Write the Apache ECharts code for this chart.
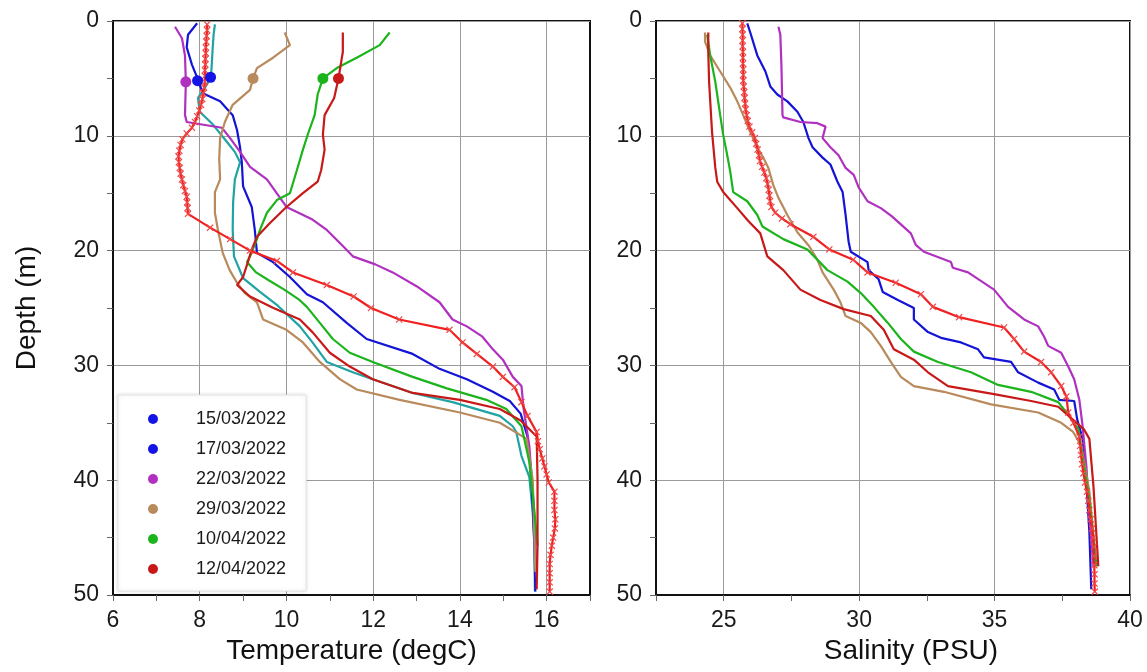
<!DOCTYPE html>
<html>
<head>
<meta charset="utf-8">
<script src="https://cdn.jsdelivr.net/npm/echarts@6/dist/echarts.min.js"></script>
<style>
html, body { margin: 0; background: #fff; }
#chart { width: 1147px; height: 672px; }
</style>
</head>
<body>
<div id="chart"></div>
<script>
// profile data, [value, depth]
var dates = ['15/03/2022', '17/03/2022', '22/03/2022', '29/03/2022', '10/04/2022', '12/04/2022'];

var temp1503 = [[8.35,0.3],[8.32,1.2],[8.3,2.3],[8.28,3.6],[8.26,4.9],[8.12,5.8],[7.96,6.7],[8.0,7.9],[8.3,9.0],[8.62,10.5],[8.81,11.4],[8.93,12.3],[8.81,13.8],[8.77,15.8],[8.76,18.2],[8.79,20.5],[9.0,22.4],[9.39,23.6],[9.8,24.8],[10.31,26.6],[10.6,28.0],[10.93,29.7],[11.53,30.6],[11.99,31.2],[12.91,32.4],[13.83,33.2],[14.92,34.4],[15.22,35.3],[15.3,35.8],[15.42,37.9],[15.6,39.7],[15.68,42.8],[15.72,46],[15.73,49.7]];
var temp1703 = [[7.94,0.2],[7.73,1.2],[7.7,2.3],[7.82,3.8],[7.96,5.1],[8.07,6.3],[8.47,7.0],[8.76,8.2],[8.86,9.5],[8.93,11.0],[8.97,12.3],[9.0,14.4],[9.2,16.2],[9.27,18.2],[9.32,20.2],[9.69,21.0],[10.08,22.3],[10.47,23.8],[10.84,24.5],[11.39,26.3],[11.85,27.7],[12.91,29.0],[13.53,30.3],[14.16,31.2],[14.76,32.3],[15.15,33.1],[15.4,34.2],[15.56,36.2],[15.65,39.9],[15.72,45.7],[15.74,49.7]];
var temp2203 = [[7.43,0.5],[7.59,1.5],[7.66,3.0],[7.68,5.3],[7.66,8.2],[7.7,8.8],[8.51,9.3],[8.7,10.2],[8.93,11.4],[9.16,12.7],[9.55,13.8],[10.0,16.2],[10.6,17.3],[10.93,18.2],[11.3,19.6],[11.53,20.5],[12.05,21.2],[12.45,21.9],[13.0,23.1],[13.53,24.5],[13.83,26.0],[14.16,26.6],[14.52,27.5],[14.76,28.6],[14.99,29.5],[15.22,31.0],[15.42,31.8],[15.47,33.8],[15.6,37],[15.7,42],[15.77,48.5]];
var temp2903 = [[9.96,1.0],[10.08,2.1],[9.69,3.2],[9.32,4.1],[9.23,5.0],[9.16,6.0],[8.76,7.3],[8.58,8.8],[8.47,10.2],[8.45,12.0],[8.47,13.8],[8.35,14.9],[8.35,16.7],[8.42,18.2],[8.53,20.2],[8.69,21.7],[8.86,22.8],[9.04,23.7],[9.32,24.5],[9.46,26.0],[10.0,26.9],[10.38,28.0],[10.77,29.7],[11.23,31.2],[11.62,32.1],[12.61,33.0],[14.0,34.1],[14.92,35.0],[15.54,36.4],[15.68,40],[15.74,48]];
var temp1004 = [[12.38,1.0],[12.15,2.1],[11.62,3.2],[11.16,4.1],[10.84,5.0],[10.72,6.4],[10.65,8.2],[10.5,9.8],[10.38,11.2],[10.24,13.0],[10.08,15.0],[9.78,15.6],[9.55,16.7],[9.39,18.2],[9.32,19.0],[9.16,20.5],[9.09,21.0],[9.3,21.9],[9.6,22.6],[9.95,23.4],[10.3,24.3],[10.47,24.9],[10.77,26.3],[11.07,27.7],[11.46,28.9],[11.99,29.7],[12.91,31.0],[13.7,32.0],[14.61,33.0],[15.07,33.8],[15.42,35.3],[15.6,38.4],[15.72,42.8],[15.79,45.7]];
var temp1204 = [[11.3,1.0],[11.3,2.7],[11.2,5.0],[11.1,6.7],[10.88,8.2],[10.84,9.9],[10.88,11.2],[10.8,13.0],[10.72,14.0],[10.38,15.0],[10.0,16.2],[9.62,17.6],[9.32,18.8],[9.2,19.9],[9.11,21.0],[9.0,22.3],[8.86,23.0],[9.16,24.0],[9.7,25.0],[10.31,26.0],[10.6,27.1],[11.0,28.9],[11.46,30.1],[11.99,31.2],[12.91,32.4],[14.0,33.0],[14.92,33.8],[15.4,34.8],[15.77,36.2],[15.79,39.9],[15.79,45.7],[15.77,49.5]];
var tempCtd = [[8.17,0.3],[8.17,0.8],[8.16,1.3],[8.15,1.8],[8.14,2.3],[8.14,2.8],[8.13,3.3],[8.13,3.8],[8.12,4.3],[8.12,4.8],[8.12,5.3],[8.1,5.8],[8.08,6.3],[8.06,6.8],[8.03,7.3],[7.99,7.8],[7.94,8.3],[7.89,8.8],[7.82,9.3],[7.7,9.8],[7.6,10.3],[7.56,10.8],[7.53,11.3],[7.51,11.8],[7.52,12.3],[7.54,12.8],[7.56,13.3],[7.59,13.8],[7.62,14.3],[7.66,14.8],[7.7,15.3],[7.71,15.8],[7.72,16.3],[7.73,16.8],[8.24,18.0],[8.7,19.0],[9.16,20.0],[9.78,20.9],[10.15,21.9],[10.93,23.0],[11.55,24.0],[11.95,25.0],[12.6,26.0],[13.76,26.9],[14.06,28.0],[14.39,29.0],[14.76,30.1],[14.99,31.0],[15.26,31.9],[15.42,33.2],[15.56,34.4],[15.77,35.8],[15.8,36.6],[15.84,37.3],[15.9,38.1],[15.95,38.8],[16.0,39.5],[16.05,40.2],[16.18,41.0],[16.18,41.8],[16.18,42.6],[16.2,43.4],[16.19,44.2],[16.15,45.0],[16.12,45.7],[16.09,46.5],[16.07,47.3],[16.07,48.1],[16.07,48.9],[16.07,49.7]];

var surfaceTemp = [8.25, 7.95, 7.68, 9.23, 10.84, 11.2];
var surfaceDepth = [4.9, 5.2, 5.3, 5.0, 5.0, 5.0];

var sal1703 = [[25.87,0.2],[25.98,1.0],[26.24,3.0],[26.54,4.4],[26.72,5.7],[26.98,6.4],[27.35,7.0],[27.72,7.9],[27.94,8.8],[28.13,10.2],[28.28,11.0],[28.65,11.9],[28.94,12.5],[29.2,14.0],[29.39,14.9],[29.5,16.9],[29.61,19.2],[29.69,20.1],[30.31,21.0],[30.35,21.7],[30.72,22.5],[30.87,23.6],[31.43,24.3],[32.02,25.0],[32.02,26.0],[32.54,27.1],[33.02,27.6],[33.76,28.0],[34.39,28.6],[34.61,29.3],[35.61,29.7],[35.87,30.6],[36.61,31.5],[37.2,32.1],[37.39,33.0],[37.94,33.1],[38.05,34.7],[38.25,36.4],[38.39,40.2],[38.5,44.5],[38.57,49.5]];
var sal2203 = [[27.02,0.5],[27.09,1.2],[27.13,3.8],[27.17,8.2],[27.2,8.4],[27.83,8.8],[28.46,8.9],[28.76,9.2],[28.65,10.2],[28.94,11.0],[29.24,11.7],[29.5,12.8],[29.8,13.4],[29.98,14.5],[30.31,15.7],[30.8,16.3],[31.2,17.0],[31.91,18.5],[32.09,19.5],[32.39,20.1],[33.39,21.0],[33.46,21.5],[34.02,21.9],[34.98,23.4],[35.5,24.9],[36.09,26.0],[36.61,26.6],[36.83,27.5],[36.98,28.3],[37.46,28.9],[37.72,30.1],[37.94,31.2],[38.13,33.0],[38.25,35.3],[38.39,38.8],[38.5,43.1],[38.65,47.5]];
var sal2903 = [[24.31,1.0],[24.31,1.8],[24.5,3.0],[24.87,4.4],[25.24,5.8],[25.5,7.0],[25.72,8.2],[25.98,9.7],[26.24,11.0],[26.46,11.9],[26.65,12.8],[26.83,14.3],[27.02,15.4],[27.35,16.9],[27.72,18.4],[28.15,19.6],[28.46,20.8],[28.65,21.9],[29.06,23.4],[29.31,24.5],[29.5,25.7],[30.06,26.3],[30.43,27.1],[30.8,28.3],[31.17,29.7],[31.54,31.0],[32.02,31.8],[33.13,32.3],[34.87,33.4],[36.61,34.1],[37.46,35.0],[37.9,35.8],[38.2,37.0],[38.5,41],[38.76,47.5]];
var sal1004 = [[24.39,1.2],[24.5,3.0],[24.69,5.3],[24.87,8.2],[24.98,9.9],[25.13,11.7],[25.24,13.1],[25.35,14.9],[25.87,15.7],[26.24,16.9],[26.43,17.9],[27.2,19.0],[28.09,19.9],[28.83,21.7],[29.57,22.7],[30.06,23.7],[30.54,24.9],[31.06,26.3],[31.54,27.7],[32.02,28.8],[32.91,29.7],[34.13,30.6],[35.13,31.7],[36.35,32.3],[37.35,33.2],[37.65,34.1],[38.09,35.5],[38.5,41.7],[38.76,47.5]];
var sal1204 = [[24.43,1.0],[24.43,2.7],[24.46,5.3],[24.57,9.7],[24.69,12.8],[24.76,14.0],[24.98,14.9],[25.5,16.3],[25.9,17.4],[26.35,18.5],[26.61,20.5],[27.2,21.7],[27.83,23.4],[28.57,24.3],[29.43,25.1],[30.43,25.7],[30.91,26.9],[31.28,28.6],[32.02,29.5],[32.54,30.6],[33.28,31.8],[34.98,32.5],[36.35,33.1],[37.35,33.6],[38.31,35.6],[38.5,36.4],[38.65,40.5],[38.83,47.5]];
var salCtd = [[25.69,0.2],[25.69,0.7],[25.7,1.2],[25.7,1.7],[25.7,2.2],[25.71,2.7],[25.71,3.2],[25.71,3.7],[25.72,4.2],[25.72,4.7],[25.72,5.2],[25.74,5.7],[25.76,6.2],[25.77,6.7],[25.79,7.2],[25.81,7.7],[25.85,8.2],[25.89,8.7],[25.95,9.2],[26.05,9.7],[26.15,10.2],[26.2,10.7],[26.25,11.2],[26.3,11.7],[26.34,12.2],[26.42,12.7],[26.5,13.2],[26.57,13.7],[26.62,14.2],[26.66,14.7],[26.69,15.2],[26.71,15.7],[26.76,16.2],[26.9,16.7],[27.15,17.2],[27.46,17.7],[28.31,18.8],[28.9,19.9],[29.78,20.8],[30.31,21.9],[31.35,22.8],[32.28,23.8],[32.72,24.9],[33.69,25.8],[35.35,26.7],[35.72,27.7],[36.09,28.8],[36.72,29.7],[37.09,30.6],[37.46,31.8],[37.65,32.7],[37.72,34.1],[37.91,35.0],[38.13,36.2],[38.16,37.0],[38.19,37.8],[38.23,38.6],[38.28,39.4],[38.34,40.2],[38.41,41.0],[38.46,41.8],[38.5,42.6],[38.55,43.4],[38.6,44.2],[38.64,45.0],[38.66,45.8],[38.67,46.6],[38.68,47.4],[38.69,48.2],[38.69,49.0],[38.7,49.7]];

var colors = {
    teal: '#1fa3a3', blue: '#1414d6', magenta: '#b030c0', brown: '#b88a5c',
    green: '#1cb41c', red: '#c81818', ctd: '#f02020'
};
var markerColors = ['#1414e6', '#1414e6', colors.magenta, colors.brown, colors.green, colors.red];

var FONT = 'Liberation Sans, Arial, sans-serif';
var GRID = '#9a9a9a';
var NONE = 'rgba(0,0,0,0)';
var xMark = 'path://M0,1.2 L1.2,0 L5,3.8 L8.8,0 L10,1.2 L6.2,5 L10,8.8 L8.8,10 L5,6.2 L1.2,10 L0,8.8 L3.8,5 Z';

function depthAxis(gi, name) {
    return {
        type: 'value', gridIndex: gi, inverse: true, min: 0, max: 50, interval: 5,
        name: name, nameLocation: 'middle', nameGap: 72,
        nameTextStyle: { fontFamily: FONT, fontSize: 28, color: '#111' },
        axisLine: { show: true, lineStyle: { color: '#111', width: 2 } },
        axisTick: { show: true, length: 6, lineStyle: { color: '#666' } },
        axisLabel: {
            fontFamily: FONT, fontSize: 23, color: '#1a1a1a', margin: 14,
            formatter: function (v) { return v % 10 === 0 ? String(v) : ''; }
        },
        splitLine: { show: true, lineStyle: { color: [GRID, NONE], width: 1 } }
    };
}

function line(name, data, color, gi, extra) {
    var s = {
        type: 'line', name: name, data: data, xAxisIndex: gi, yAxisIndex: gi,
        showSymbol: false, smooth: false, z: 3, silent: true,
        lineStyle: { color: color, width: 2.2 }, itemStyle: { color: color }
    };
    if (extra) for (var k in extra) s[k] = extra[k];
    return s;
}

var ctdExtra = {
    showSymbol: true, showAllSymbol: true, symbol: xMark, symbolSize: 7,
    itemStyle: { color: '#f04848' }, z: 4
};

var surfaceData = surfaceTemp.map(function (t, i) {
    return { value: [t, surfaceDepth[i]], itemStyle: { color: markerColors[i], opacity: 1 } };
});

var chart = echarts.init(document.getElementById('chart'), null, { renderer: 'canvas' });

chart.setOption({
    animation: false,
    backgroundColor: '#fff',
    grid: [
        { left: 113, top: 21, width: 477, height: 574, show: true, borderColor: '#111', borderWidth: 2, backgroundColor: NONE },
        { left: 656, top: 21, width: 474, height: 574, show: true, borderColor: '#111', borderWidth: 2, backgroundColor: NONE }
    ],
    xAxis: [
        {
            type: 'value', gridIndex: 0, min: 6, max: 17, interval: 1,
            name: 'Temperature (degC)', nameLocation: 'middle', nameGap: 40,
            nameTextStyle: { fontFamily: FONT, fontSize: 28, color: '#111' },
            axisLine: { show: true, onZero: false, lineStyle: { color: '#111', width: 2 } },
            axisTick: { show: true, length: 6, lineStyle: { color: '#666' } },
            axisLabel: {
                fontFamily: FONT, fontSize: 23, color: '#1a1a1a', margin: 14,
                formatter: function (v) { return v % 2 === 0 ? String(v) : ''; }
            },
            splitLine: { show: true, lineStyle: { color: [GRID, NONE], width: 1 } }
        },
        {
            type: 'value', gridIndex: 1, min: 22.5, max: 40, interval: 2.5,
            name: 'Salinity (PSU)', nameLocation: 'middle', nameGap: 40,
            nameTextStyle: { fontFamily: FONT, fontSize: 28, color: '#111', padding: [0, 0, 0, 36] },
            axisLine: { show: true, onZero: false, lineStyle: { color: '#111', width: 2 } },
            axisTick: { show: true, length: 6, lineStyle: { color: '#666' } },
            axisLabel: {
                fontFamily: FONT, fontSize: 23, color: '#1a1a1a', margin: 14,
                formatter: function (v) { return v % 5 === 0 ? String(v) : ''; }
            },
            splitLine: { show: true, lineStyle: { color: [NONE, GRID], width: 1 } }
        }
    ],
    yAxis: [depthAxis(0, 'Depth (m)'), depthAxis(1, '')],
    legend: {
        orient: 'vertical', left: 118, top: 395,
        padding: [15, 20, 13, 30], itemGap: 12,
        itemWidth: 40, itemHeight: 10, icon: 'circle',
        backgroundColor: '#fff', borderColor: '#e4e4e4', borderWidth: 1,
        shadowBlur: 4, shadowColor: 'rgba(0,0,0,0.12)',
        textStyle: { fontFamily: FONT, fontSize: 18, color: '#1a1a1a', padding: [0, 0, 0, 18] },
        selectedMode: false,
        data: dates.map(function (d, i) {
            return { name: d, itemStyle: { color: markerColors[i] } };
        })
    },
    series: [
        line(dates[0], temp1503, colors.teal, 0),
        line(dates[1], temp1703, colors.blue, 0),
        line(dates[2], temp2203, colors.magenta, 0),
        line(dates[3], temp2903, colors.brown, 0),
        line(dates[4], temp1004, colors.green, 0),
        line(dates[5], temp1204, colors.red, 0),
        line('CTD', tempCtd, colors.ctd, 0, ctdExtra),
        {
            type: 'scatter', name: 'surface', xAxisIndex: 0, yAxisIndex: 0,
            symbolSize: 11, z: 5, silent: true, data: surfaceData
        },
        line(dates[1], sal1703, colors.blue, 1),
        line(dates[2], sal2203, colors.magenta, 1),
        line(dates[3], sal2903, colors.brown, 1),
        line(dates[4], sal1004, colors.green, 1),
        line(dates[5], sal1204, colors.red, 1),
        line('CTD', salCtd, colors.ctd, 1, ctdExtra)
    ]
});
</script>
</body>
</html>
